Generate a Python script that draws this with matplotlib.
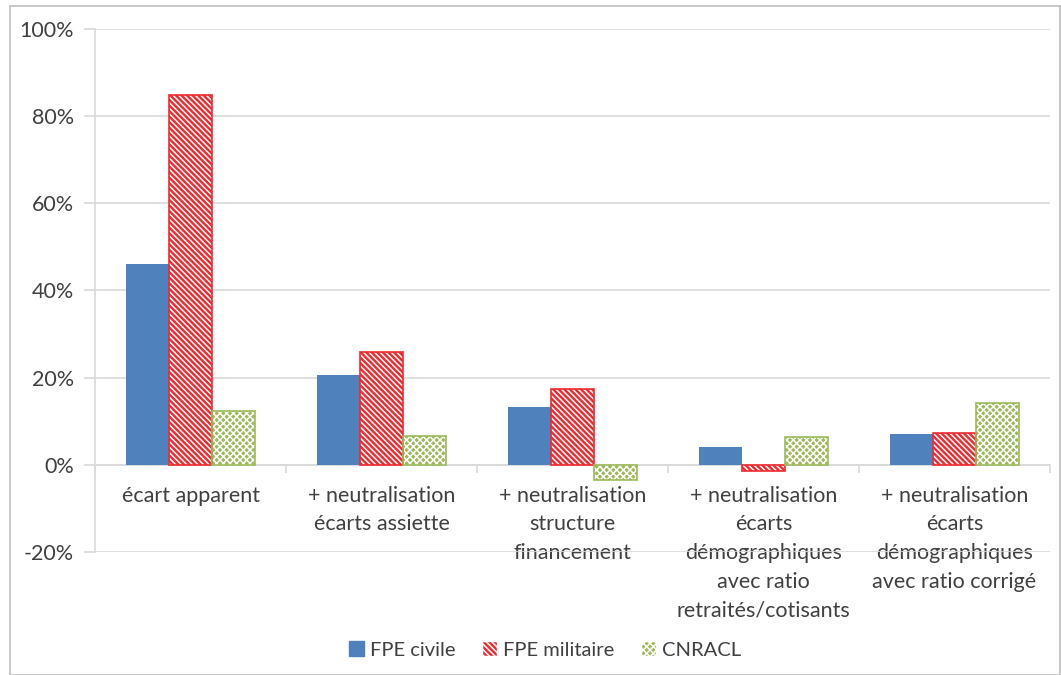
import matplotlib
matplotlib.use("Agg")
import matplotlib.pyplot as plt
from matplotlib.patches import Patch, Rectangle
import numpy as np

categories = ["écart apparent",
              "+ neutralisation\nécarts assiette",
              "+ neutralisation\nstructure\nfinancement",
              "+ neutralisation\nécarts\ndémographiques\navec ratio\nretraités/cotisants",
              "+ neutralisation\nécarts\ndémographiques\navec ratio corrigé"]
fpe_civile = [46.0, 20.6, 13.3, 4.0, 7.0]
fpe_militaire = [84.8, 26.0, 17.4, -1.4, 7.3]
cnracl = [12.4, 6.7, -3.4, 6.4, 14.2]
yticks = [-20, 0, 20, 40, 60, 80, 100]

plt.rcParams['font.family'] = ['Lato', 'DejaVu Sans']
plt.rcParams['hatch.linewidth'] = 1.1

fig = plt.figure(figsize=(10.61, 6.75), dpi=100)
ax = fig.add_axes([95/1061, 123/675, 955/1061, 523/675])

x = np.arange(len(categories))
w = 0.225
blue = '#4F81BD'
red = '#EE2A2F'
green = '#9BBB59'
fs = 15.5
tc = '#404040'

ax.bar(x - w, fpe_civile, w, color=blue, zorder=3)
# red hatched
ax.bar(x, fpe_militaire, w, color=red, edgecolor='white', hatch='\\\\\\\\\\\\', linewidth=0, zorder=3)
ax.bar(x, fpe_militaire, w, fill=False, edgecolor=red, linewidth=1.2, zorder=4)
# green dotted
ax.bar(x + w, cnracl, w, color=green, edgecolor='white', hatch='xxxxx', linewidth=0, zorder=3)
ax.bar(x + w, cnracl, w, fill=False, edgecolor=green, linewidth=1.2, zorder=4)

ax.set_xlim(-0.5, 4.5)
ax.set_ylim(-20, 100)
ax.set_yticks(yticks)
ax.set_yticklabels([f"{v}%" for v in yticks], fontsize=fs, color=tc)
ax.yaxis.grid(True, color='#D9D9D9', linewidth=1.2, zorder=0)
ax.tick_params(axis='y', length=8, color='#D9D9D9', width=1.2, pad=7)

for s in ['top', 'right']:
    ax.spines[s].set_visible(False)
ax.spines['left'].set_color('#D9D9D9')
ax.spines['left'].set_linewidth(1.2)
ax.spines['bottom'].set_position(('data', 0))
ax.spines['bottom'].set_color('#D9D9D9')
ax.spines['bottom'].set_linewidth(1.2)

ax.set_xticks(x)
ax.set_xticklabels(categories, fontsize=fs, color=tc, linespacing=1.55, va='top')
ax.set_xticks(np.arange(-0.5, 5, 1.0), minor=True)
ax.tick_params(axis='x', which='major', length=0, pad=15)
ax.tick_params(axis='x', which='minor', length=6, color='#D9D9D9', width=1.2, direction='out')

handles = [Patch(facecolor=blue, edgecolor=blue),
           Patch(facecolor=red, edgecolor='white', hatch='\\\\\\\\\\\\'),
           Patch(facecolor=green, edgecolor='white', hatch='xxxxx')]
fig.legend(handles, ["FPE civile", "FPE militaire", "CNRACL"], loc='center',
           bbox_to_anchor=(545/1061, 1 - 650/675), ncol=3, frameon=False,
           fontsize=14.5, handlelength=0.75, handleheight=0.75, columnspacing=1.3,
           handletextpad=0.3, labelcolor=tc)

fig.patches.append(Rectangle((10/1061, 0), 1 - 10/1061 - 1/1061, 1 - 6/675,
                             transform=fig.transFigure, fill=False,
                             edgecolor='#BFBFBF', linewidth=1.2))

fig.savefig('out.png', dpi=100)
